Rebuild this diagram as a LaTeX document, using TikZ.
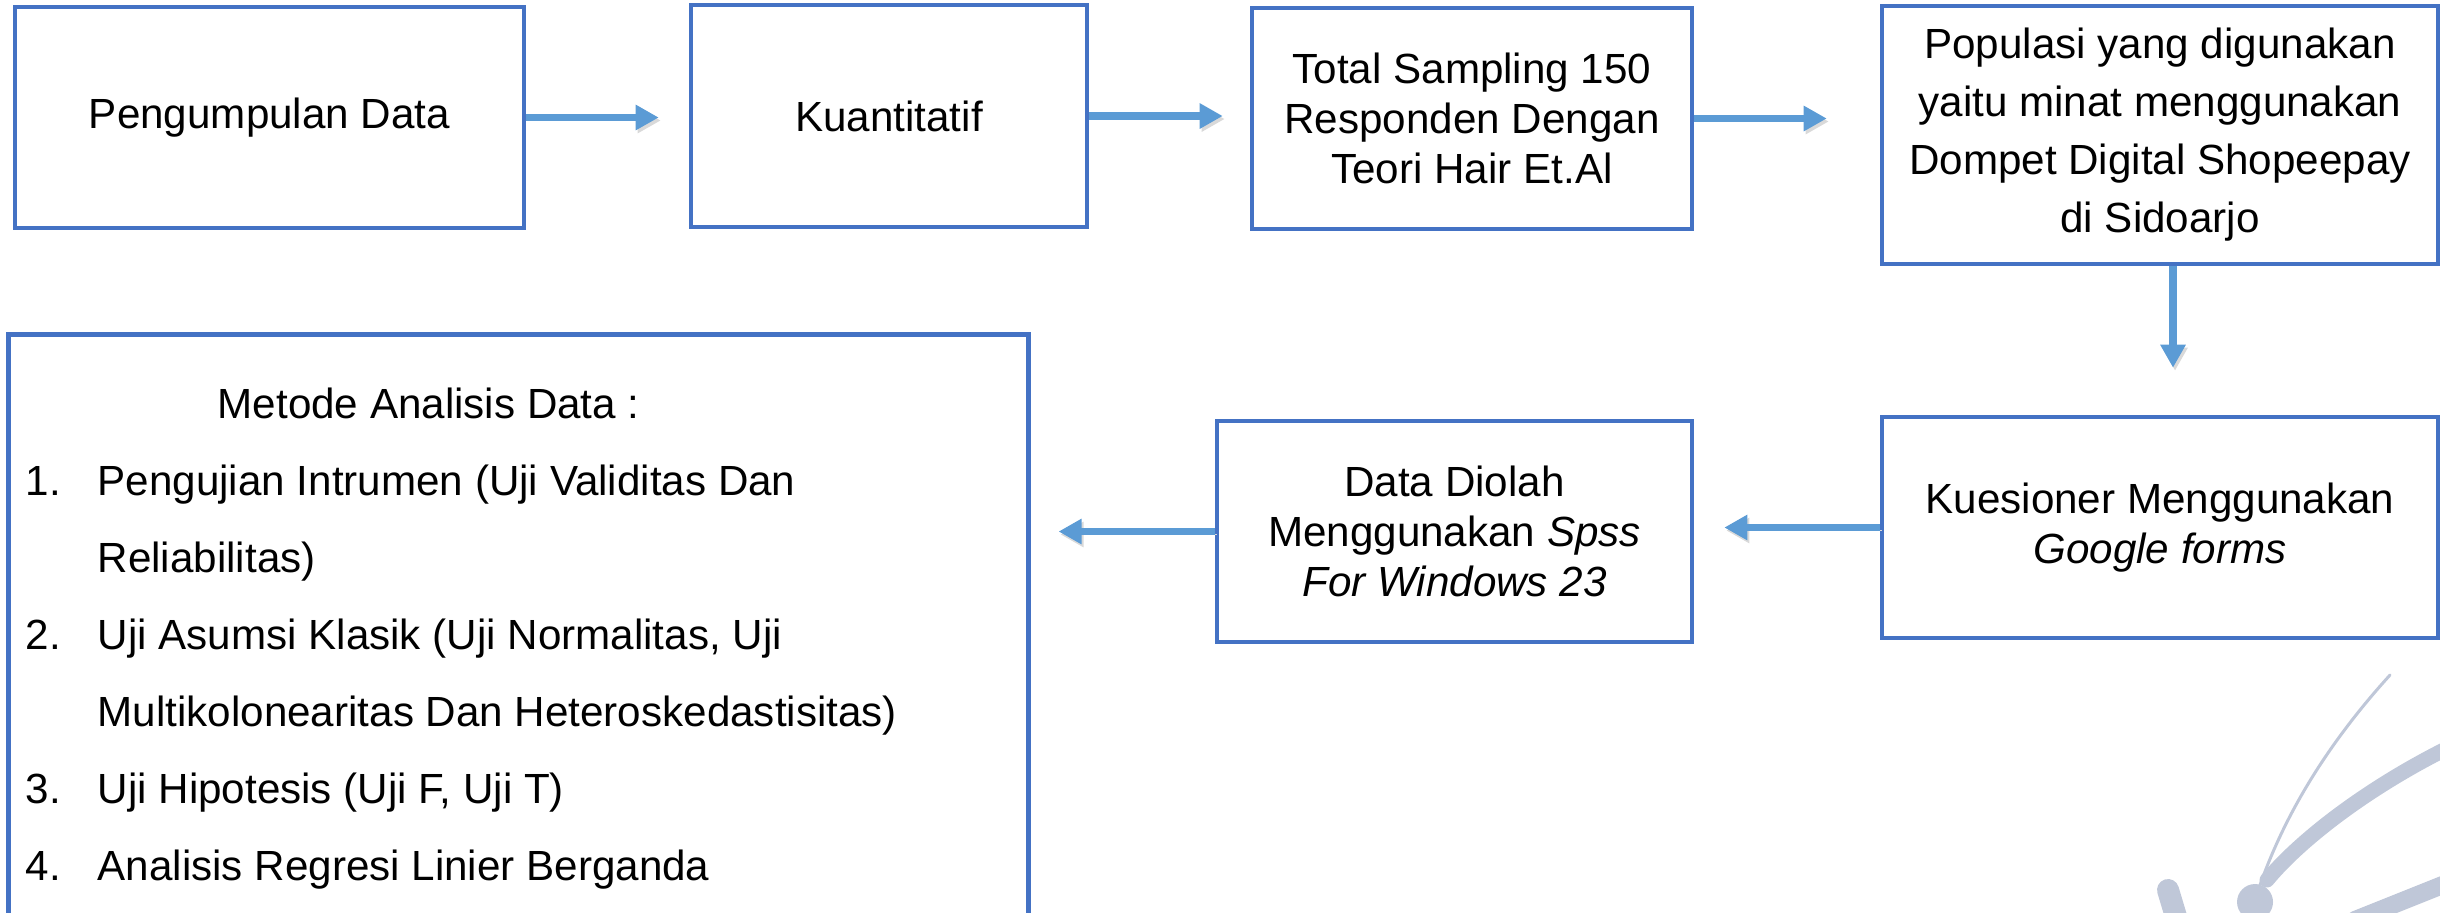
\documentclass[tikz,border=0pt]{standalone}
\usepackage{fontspec}
\setmainfont{Liberation Sans}
\usetikzlibrary{arrows.meta}
\definecolor{boxblue}{HTML}{4472C4}
\definecolor{arrowblue}{HTML}{5B9BD5}
\definecolor{markgray}{HTML}{BFC7D8}
\tikzset{
  box/.style={draw=boxblue, line width=1.3pt, rectangle, inner sep=0pt, align=center,
    font=\fontsize{12}{14.2}\selectfont},
  flow/.style={draw=arrowblue, line width=2.2pt, -{Triangle[length=0.23cm,width=0.24cm]},
    shorten >=#1,
    preaction={draw=black!15, transform canvas={shift={(0.02,-0.03)}}}},
  logopart/.style={draw=markgray, line cap=round}
}
\begin{document}
\begin{tikzpicture}
  \clip (0,0) rectangle (24.4,-9.12);
  % logo in the corner
  \draw[logopart, line width=0.03cm] (23.90,-6.75) .. controls (23.4,-7.3) and (22.9,-8.0) .. (22.60,-8.85);
  \draw[logopart, line width=0.15cm] (24.6,-7.42) .. controls (23.7,-7.85) and (23.0,-8.4) .. (22.67,-8.80);
  \fill[markgray] (22.55,-9.02) circle (0.18);
  \draw[logopart, line width=0.22cm] (21.68,-8.90) -- (21.80,-9.3);
  \draw[logopart, line width=0.18cm] (24.6,-8.78) -- (23.55,-9.2);

  % first row
  \node[box, minimum width=5.09cm, minimum height=2.21cm] (collect) at (2.695,-1.175) {Pengumpulan Data};
  \node[box, minimum width=3.96cm, minimum height=2.22cm] (quant) at (8.89,-1.16) {Kuantitatif};
  \node[box, minimum width=4.40cm, minimum height=2.21cm] (sample) at (14.72,-1.185)
    {Total Sampling 150\\Responden Dengan\\Teori Hair Et.Al};
  \node[box, minimum width=5.56cm, minimum height=2.58cm, font=\fontsize{12}{16.5}\selectfont] (popul) at (21.60,-1.35)
    {Populasi yang digunakan\\yaitu minat menggunakan\\Dompet Digital Shopeepay\\di Sidoarjo};

  % second row
  \node[box, minimum width=5.56cm, minimum height=2.21cm] (survey) at (21.60,-5.275)
    {Kuesioner Menggunakan\\\textit{Google forms}};
  \node[box, minimum width=4.75cm, minimum height=2.21cm] (process) at (14.545,-5.315)
    {Data Diolah\\Menggunakan \textit{Spss}\\\textit{For Windows 23}};
  \node[box, minimum width=10.20cm, minimum height=6.2cm, anchor=north west] (analysis) at (0.06,-3.32) {};
  \node[anchor=north west, inner sep=0pt, align=left, font=\fontsize{12}{21.9}\selectfont] (methods) at (0.25,-3.87)
    {\hspace{1.92cm}Metode Analisis Data :\\
     \makebox[0.72cm][l]{1.}Pengujian Intrumen (Uji Validitas Dan\\
     \hspace{0.72cm}Reliabilitas)\\
     \makebox[0.72cm][l]{2.}Uji Asumsi Klasik (Uji Normalitas, Uji\\
     \hspace{0.72cm}Multikolonearitas Dan Heteroskedastisitas)\\
     \makebox[0.72cm][l]{3.}Uji Hipotesis (Uji F, Uji T)\\
     \makebox[0.72cm][l]{4.}Analisis Regresi Linier Berganda};

  % arrows
  \draw[flow=0.30cm] (collect.east) -- (collect.east -| quant.west);
  \draw[flow=0.27cm] (quant.east) -- (quant.east -| sample.west);
  \draw[flow=0.53cm] (sample.east) -- (sample.east -| popul.west);
  \draw[flow=0.47cm] ([xshift=0.13cm]popul.south) -- ([xshift=0.13cm]survey.north);
  \draw[flow=0.30cm] (survey.west) -- (survey.west -| process.east);
  \draw[flow=0.28cm] (process.west) -- (process.west -| analysis.east);
\end{tikzpicture}
\end{document}
